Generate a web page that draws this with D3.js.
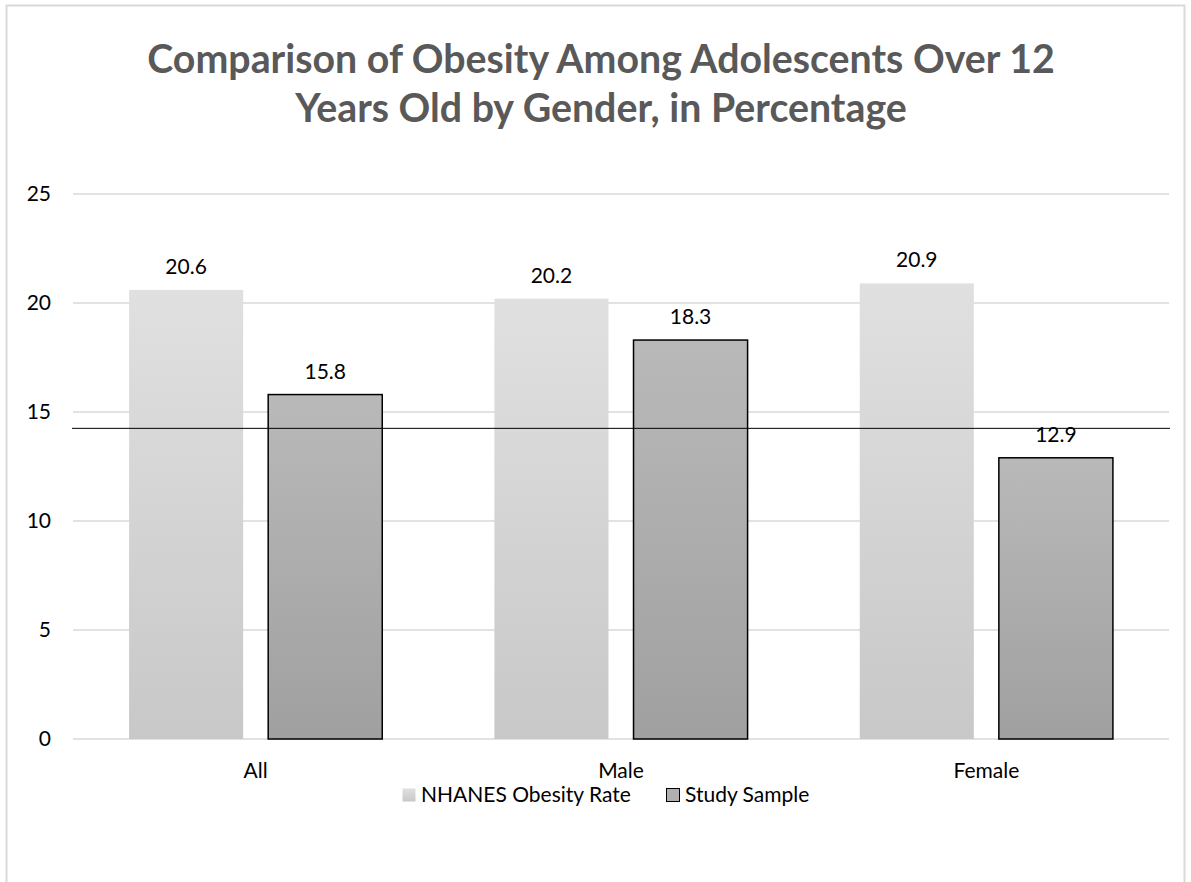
<!DOCTYPE html>
<html>
<head>
<meta charset="utf-8">
<script src="https://cdn.jsdelivr.net/npm/d3@7"></script>
<style>
  body { margin: 0; background: #fff; }
  svg { display: block; font-family: Lato, "Open Sans", sans-serif; }
</style>
</head>
<body>
<svg id="chart" width="1191" height="882"></svg>
<script>
// chart values
var categories = ["All", "Male", "Female"];
var seriesNames = ["NHANES Obesity Rate", "Study Sample"];
var nhanesValues = [20.6, 20.2, 20.9];
var studyValues = [15.8, 18.3, 12.9];
var yTicks = [0, 5, 10, 15, 20, 25];
var refLineValue = 14.25;
var titleLines = ["Comparison of Obesity Among Adolescents Over 12", "Years Old by Gender, in Percentage"];

var rows = categories.map(function(c, i) {
    return { cat: c, values: [nhanesValues[i], studyValues[i]] };
});

var svg = d3.select("#chart");

// outer chart border
svg.append("rect")
    .attr("x", 6.5).attr("y", 5.5)
    .attr("width", 1178).attr("height", 890)
    .attr("fill", "#fff")
    .attr("stroke", "#d9d9d9")
    .attr("stroke-width", 2);

// gradients
var defs = svg.append("defs");
function addGrad(id, c1, c2) {
    var g = defs.append("linearGradient").attr("id", id)
        .attr("x1", 0).attr("y1", 0).attr("x2", 0).attr("y2", 1);
    g.append("stop").attr("offset", "0%").attr("stop-color", c1);
    g.append("stop").attr("offset", "100%").attr("stop-color", c2);
}
addGrad("gradA", "#e0e0e0", "#c8c8c8");
addGrad("gradB", "#b9b9b9", "#a0a0a0");

// title
svg.append("g").selectAll("text")
    .data(titleLines)
    .join("text")
    .attr("x", 601)
    .attr("y", function(d, i) { return 73 + i * 49; })
    .attr("text-anchor", "middle")
    .attr("font-size", 39.3)
    .attr("font-weight", "bold")
    .attr("fill", "#595959")
    .text(function(d) { return d; });

var plotLeft = 73, plotRight = 1169, plotTop = 194, plotBottom = 739;
var fs = 21;

var y = d3.scaleLinear().domain([0, 25]).range([plotBottom, plotTop]);
var x0 = d3.scaleBand().domain(categories).range([plotLeft, plotRight]).padding(0);
var bw = x0.bandwidth();
var x1 = d3.scaleBand().domain([0, 1])
    .range([bw * 0.1535, bw * (1 - 0.1535)])
    .paddingInner(0.18);

// gridlines
svg.append("g").selectAll("line")
    .data(yTicks)
    .join("line")
    .attr("x1", plotLeft).attr("x2", plotRight)
    .attr("y1", function(d) { return y(d); })
    .attr("y2", function(d) { return y(d); })
    .attr("stroke", "#d9d9d9")
    .attr("stroke-width", 1.5);

// y axis labels
var yAxis = d3.axisLeft(y).tickValues(yTicks).tickSize(0).tickPadding(0);
var yg = svg.append("g").attr("transform", "translate(51,0)").call(yAxis);
yg.select(".domain").remove();
yg.selectAll("text")
    .attr("font-size", fs)
    .attr("font-family", "Lato, sans-serif")
    .attr("fill", "#000");

// bars
var groups = svg.append("g").selectAll("g")
    .data(rows)
    .join("g")
    .attr("transform", function(d) { return "translate(" + x0(d.cat) + ",0)"; });

groups.selectAll("rect")
    .data(function(d) { return d.values.map(function(v, i) { return { i: i, v: v }; }); })
    .join("rect")
    .attr("x", function(d) { return x1(d.i); })
    .attr("width", x1.bandwidth())
    .attr("y", function(d) { return y(d.v); })
    .attr("height", function(d) { return y(0) - y(d.v); })
    .attr("fill", function(d) { return d.i == 0 ? "url(#gradA)" : "url(#gradB)"; })
    .attr("stroke", function(d) { return d.i == 0 ? "none" : "#000"; })
    .attr("stroke-width", 1.5);

// value labels
groups.selectAll("text")
    .data(function(d) { return d.values.map(function(v, i) { return { i: i, v: v }; }); })
    .join("text")
    .attr("x", function(d) { return x1(d.i) + x1.bandwidth() / 2; })
    .attr("y", function(d) { return y(d.v) - 16; })
    .attr("text-anchor", "middle")
    .attr("font-size", fs)
    .attr("fill", "#000")
    .text(function(d) { return d.v.toFixed(1); });

// category labels
var xAxis = d3.axisBottom(x0).tickSize(0).tickPadding(0);
var xg = svg.append("g").attr("transform", "translate(0," + (plotBottom + 24) + ")").call(xAxis);
xg.select(".domain").remove();
xg.selectAll("text")
    .attr("font-size", fs)
    .attr("font-family", "Lato, sans-serif")
    .attr("fill", "#000");

// horizontal reference line
svg.append("line")
    .attr("x1", plotLeft - 1).attr("x2", plotRight + 1)
    .attr("y1", y(refLineValue)).attr("y2", y(refLineValue))
    .attr("stroke", "#000")
    .attr("stroke-width", 1);

// legend
var legendItems = [
    { name: seriesNames[0], x: 402, fill: "url(#gradA)", stroke: "none" },
    { name: seriesNames[1], x: 666, fill: "#b0b0b0", stroke: "#000" }
];
var lg = svg.append("g").selectAll("g")
    .data(legendItems)
    .join("g")
    .attr("transform", function(d) { return "translate(" + d.x + ",788)"; });
lg.append("rect")
    .attr("x", 0.5).attr("y", 0.5)
    .attr("width", 13).attr("height", 13)
    .attr("fill", function(d) { return d.fill; })
    .attr("stroke", function(d) { return d.stroke; })
    .attr("stroke-width", 1);
lg.append("text")
    .attr("x", function(d, i) { return i == 0 ? 19 : 19; })
    .attr("y", 14)
    .attr("font-size", fs)
    .attr("fill", "#000")
    .text(function(d) { return d.name; });
</script>
</body>
</html>
